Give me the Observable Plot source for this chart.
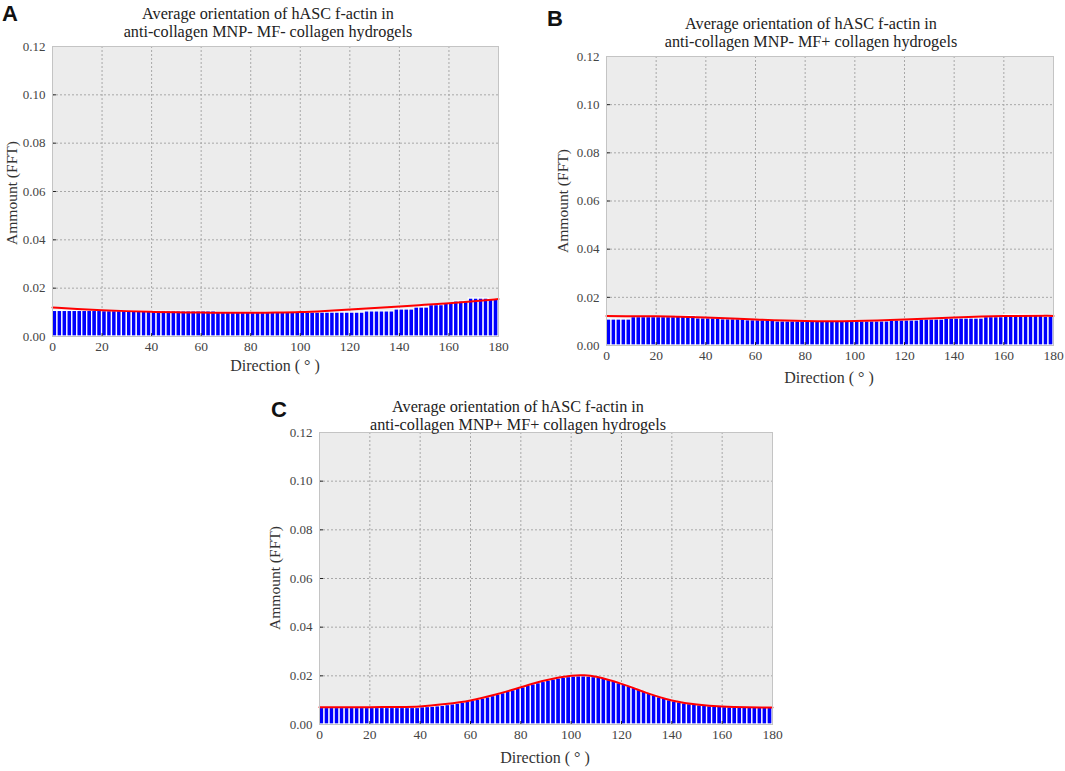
<!DOCTYPE html>
<html>
<head>
<meta charset="utf-8">
<script src="https://cdn.jsdelivr.net/npm/d3@7"></script>
<script src="https://cdn.jsdelivr.net/npm/@observablehq/plot@0.6"></script>
<style>
  html, body { margin: 0; padding: 0; background: #fff; }
  #root { position: relative; width: 1065px; height: 771px; overflow: hidden; background: #fff; }
  .abs { position: absolute; white-space: nowrap; }
  .title { font-family: "Liberation Serif", "DejaVu Serif", serif; font-size: 16.2px; color: #222; text-align: center; line-height: 18px; transform: translate(-50%, 0); }
  .letter { font-family: "Liberation Sans", Arial, sans-serif; font-weight: bold; font-size: 22px; color: #111; }
  .xlab { font-family: "Liberation Serif", serif; font-size: 16px; color: #333; transform: translate(-50%, -50%); }
  .ylab { font-family: "Liberation Serif", serif; font-size: 15.5px; color: #333; transform: translate(-50%, -50%) rotate(-90deg); }
  svg { position: absolute; }
</style>
</head>
<body>
<div id="root"></div>
<script>
// ---- categories (bin start angles, degrees) ----
const angles = d3.range(0, 180, 2);
const xTicks = [0, 20, 40, 60, 80, 100, 120, 140, 160, 180];
const yTicks = [0, 0.02, 0.04, 0.06, 0.08, 0.10, 0.12];

// ---- Panel A: MNP- MF- ----
const barsA = [
  0.0106,0.0106,0.0106,0.0106,0.0106,0.0106,0.0106,0.0106,0.0106,0.0106,
  0.0105,0.0105,0.0105,0.0105,0.0105,0.0105,0.0105,0.0105,0.0105,0.0105,
  0.0104,0.0104,0.0104,0.0104,0.0104,0.0104,0.0104,0.0104,0.0104,0.0104,0.0104,0.0104,0.0104,
  0.0098,0.0098,0.0098,0.0098,0.0098,0.0098,0.0098,0.0098,0.0098,0.0098,0.0098,0.0098,0.0098,0.0098,0.0098,0.0098,0.0098,
  0.0099,0.0099,0.0099,0.0099,0.0099,0.0099,0.0099,0.0099,0.0099,0.0099,0.0099,0.0099,0.0099,
  0.0104,0.0104,0.0104,0.0104,0.0104,0.0104,
  0.0112,0.0112,0.0112,0.0112,
  0.0120,0.0120,0.0120,
  0.0130,0.0130,0.0130,
  0.0137,0.0137,
  0.0145,0.0145,0.0145,
  0.0157,0.0157,0.0157,0.0157,
  0.0153,0.0153
];
const fitXA = [0,10,20,30,40,50,60,70,80,90,100,110,120,130,140,150,160,170,180];
const fitYA = [0.0120,0.0114,0.0109,0.0105,0.0102,0.0100,0.0099,0.0098,0.0098,0.0099,0.0101,0.0106,0.0112,0.0118,0.0124,0.0131,0.0138,0.0146,0.0155];

// ---- Panel B: MNP- MF+ ----
const barsB = [
  0.0108,0.0108,0.0108,0.0108,0.0108,
  0.0118,0.0118,0.0118,0.0118,0.0118,0.0118,0.0118,0.0118,0.0118,
  0.0122,0.0122,0.0122,0.0122,
  0.0113,0.0113,0.0113,0.0113,0.0113,
  0.0109,0.0109,0.0109,0.0109,0.0109,
  0.0105,0.0105,0.0105,0.0105,0.0105,0.0105,
  0.0100,0.0100,0.0100,0.0100,0.0100,0.0100,0.0100,0.0100,0.0100,0.0100,0.0100,0.0100,0.0100,0.0100,0.0100,0.0100,0.0100,0.0100,0.0100,0.0100,0.0100,0.0100,0.0100,
  0.0104,0.0104,0.0104,0.0104,0.0104,0.0104,
  0.0108,0.0108,0.0108,0.0108,0.0108,
  0.0112,0.0112,0.0112,0.0112,0.0112,0.0112,0.0112,0.0112,
  0.0118,0.0118,0.0118,0.0118,
  0.0127,0.0127,0.0127,0.0127,0.0127,0.0127,0.0127,0.0127,
  0.0119,0.0119
];
const fitXB = [0,20,40,60,80,100,120,140,160,180];
const fitYB = [0.0122,0.0121,0.0116,0.0108,0.0102,0.0102,0.0108,0.0116,0.0122,0.0123];

// ---- Panel C: MNP+ MF+ ----
const barsC = [
  0.0068,0.0068,0.0068,0.0068,0.0068,0.0068,0.0068,0.0068,0.0068,0.0068,
  0.0068,0.0068,0.0068,0.0068,0.0068,0.0068,0.0068,0.0068,0.0068,0.0068,
  0.0071,0.0072,0.0073,0.0075,0.0077,0.0080,0.0083,0.0086,0.0089,0.0093,
  0.0097,0.0102,0.0107,0.0112,0.0117,0.0123,0.0129,0.0135,0.0141,0.0147,
  0.0153,0.0159,0.0165,0.0170,0.0175,0.0180,0.0185,0.0189,0.0192,0.0195,
  0.0197,0.0198,0.0198,0.0197,0.0195,0.0192,0.0188,0.0183,0.0177,0.0170,
  0.0164,0.0157,0.0150,0.0142,0.0134,0.0126,0.0119,0.0112,0.0106,0.0100,
  0.0095,0.0091,0.0087,0.0084,0.0081,0.0079,0.0077,0.0075,0.0074,0.0073,
  0.0072,0.0071,0.0070,0.0069,0.0069,0.0069,0.0069,0.0069,0.0069,0.0069
];
const fitXC = [0,10,20,30,40,50,60,70,80,90,100,105,110,120,130,140,150,160,170,180];
const fitYC = [0.0071,0.0071,0.0071,0.0072,0.0074,0.0084,0.0099,0.0123,0.0153,0.0182,0.0200,0.0202,0.0196,0.0167,0.0130,0.0099,0.0082,0.0074,0.0071,0.0070];

const root = document.getElementById("root");

function addText(cls, html, x, y) {
  const d = document.createElement("div");
  d.className = "abs " + cls;
  d.innerHTML = html;
  d.style.left = x + "px";
  d.style.top = y + "px";
  root.appendChild(d);
}

function panel(bars, fitX, fitY, left, top, width, height) {
  const barData = angles.map((a, i) => ({a, v: bars[i]}));
  const fitData = fitX.map((x, i) => ({x, y: fitY[i]}));
  const chart = Plot.plot({
    width, height,
    marginLeft: 52, marginRight: 12, marginTop: 10, marginBottom: 45,
    style: {fontFamily: "'Liberation Serif', serif", fontSize: "13px", color: "#444", background: "transparent"},
    x: {domain: [0, 180]},
    y: {domain: [0, 0.12]},
    marks: [
      Plot.frame({fill: "#ececec"}),
      Plot.gridX(xTicks, {stroke: "#a8a8a8", strokeOpacity: 1, strokeDasharray: "2,2"}),
      Plot.gridY(yTicks, {stroke: "#a8a8a8", strokeOpacity: 1, strokeDasharray: "2,2"}),
      Plot.rectY(barData, {x1: "a", x2: d => d.a + 2, y1: 0, y2: "v", fill: "#0000ff", stroke: "#ffffff", strokeWidth: 1.3}),
      Plot.ruleX(xTicks.slice(1, -1), {y1: 0, y2: 0.0012, stroke: "#222", strokeWidth: 1}),
      Plot.ruleY(yTicks.slice(1, -1), {x1: 0, x2: 1.6, stroke: "#222", strokeWidth: 1}),
      Plot.line(fitData, {x: "x", y: "y", stroke: "#ff0000", strokeWidth: 2, curve: "natural"}),
      Plot.frame({stroke: "#c4c4c4"}),
      Plot.axisX(xTicks, {tickSize: 0, tickPadding: 5, label: null, fill: "#444", fontSize: 13.5}),
      Plot.axisY(yTicks, {tickSize: 0, tickPadding: 7, label: null, tickFormat: d3.format(".2f"), fill: "#444", fontSize: 13})
    ]
  });
  chart.style.left = left + "px";
  chart.style.top = top + "px";
  root.appendChild(chart);
}

// Panel A
panel(barsA, fitXA, fitYA, 0, 36, 510, 345);
addText("letter", "A", 2, 1);
addText("title", "Average orientation of hASC f-actin in<br>anti-collagen MNP- MF- collagen hydrogels", 268, 5);
addText("xlab", "Direction ( ° )", 275, 366);
addText("ylab", "Ammount (FFT)", 12, 193);

// Panel B
panel(barsB, fitXB, fitYB, 554, 46, 511, 344);
addText("letter", "B", 547, 6);
addText("title", "Average orientation of hASC f-actin in<br>anti-collagen MNP- MF+ collagen hydrogels", 811, 15);
addText("xlab", "Direction ( ° )", 829, 378);
addText("ylab", "Ammount (FFT)", 563, 201);

// Panel C
panel(barsC, fitXC, fitYC, 267, 422, 517, 347);
addText("letter", "C", 271, 397);
addText("title", "Average orientation of hASC f-actin in<br>anti-collagen MNP+ MF+ collagen hydrogels", 518, 398);
addText("xlab", "Direction ( ° )", 545, 758);
addText("ylab", "Ammount (FFT)", 275, 578);
</script>
</body>
</html>
